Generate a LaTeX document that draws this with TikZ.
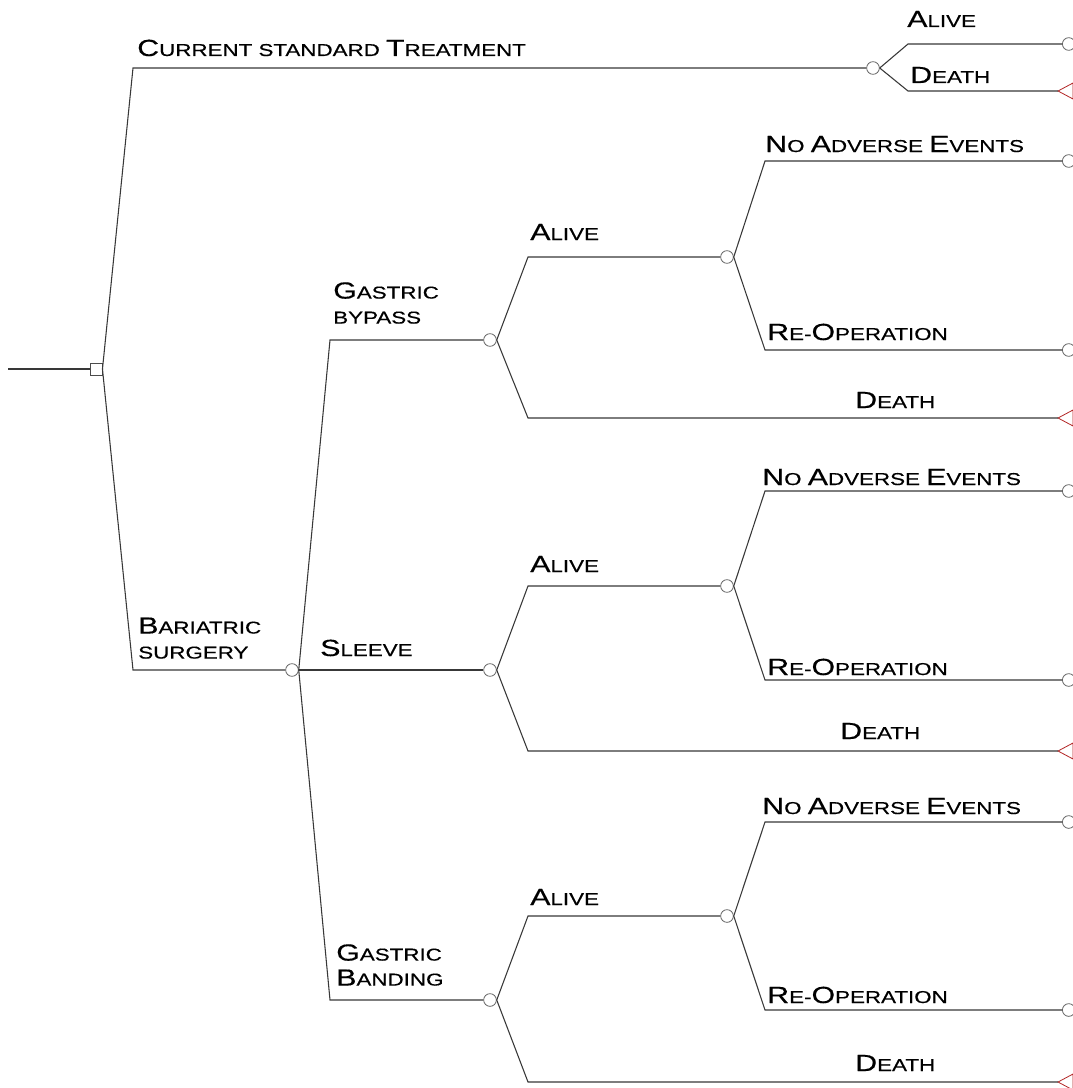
\documentclass[tikz,border=0pt]{standalone}
\usepackage{fontspec}
\newfontfamily\cpfont[FakeStretch=1.3,FakeBold=0.4]{Liberation Sans}
\newcommand{\Cp}[1]{{\fontsize{17.5}{20}\selectfont #1}}
\begin{document}
\begin{tikzpicture}[x=0.75pt,y=-0.75pt,
  ln/.style={draw=black!78, line width=0.8pt},
  chance/.style={circle, draw=black!60, line width=0.6pt, minimum size=9.5pt, inner sep=0pt},
  decision/.style={rectangle, draw=black!70, line width=0.7pt, minimum size=9pt, inner sep=0pt},
  tri/.style={draw=red!65!black!85, line width=0.6pt},
  endc/.style={chance, anchor=west},
  lbl/.style={font=\cpfont\fontsize{12.9}{18.75}\selectfont, text=black, inner sep=0pt, anchor=base west},
  lbl2/.style={font=\cpfont\fontsize{12.9}{18.75}\selectfont, text=black, inner sep=0pt, anchor=south west, align=left}]
\useasboundingbox[fill=white] (0,0) rectangle (1073,1088);

% root decision
\coordinate (start) at (8,369);
\node[decision] (root) at (96,369) {};
\draw[ln] (start) -- (root);

% current standard treatment
\coordinate (kcst) at (133,68);
\node[chance] (c0) at (873,68) {};
\draw[ln] (root.east) -- (kcst) -- (c0);
\node[lbl] (lcst) at (137,56) {\Cp{C}URRENT STANDARD \Cp{T}REATMENT};
\coordinate (k0a) at (908,44);
\coordinate (k0d) at (908,91);
\node[endc] (t0a) at (1062,44) {};
\coordinate (t0d) at (1058,91);
\draw[tri] (t0d) -- ++(15,-8) -- ++(0,16) -- cycle;
\draw[ln] (c0.east) -- (k0a) -- (t0a);
\draw[ln] (c0.east) -- (k0d) -- (t0d);
\node[lbl] (l0a) at (907,27) {\Cp{A}LIVE};
\node[lbl] (l0d) at (910,83) {\Cp{D}EATH};

% bariatric surgery
\coordinate (kbar) at (133,670);
\node[chance] (c1) at (292,670) {};
\draw[ln] (root.east) -- (kbar) -- (c1);
\node[lbl2] (lbar) at (138,659) {\Cp{B}ARIATRIC\\SURGERY};

% three procedures
\coordinate (kb) at (330,340);
\coordinate (kg) at (330,1000);
\node[chance] (cb) at (490,340) {};
\node[chance] (cs) at (490,670) {};
\node[chance] (cg) at (490,1000) {};
\draw[ln] (c1.east) -- (kb) -- (cb);
\draw[ln] (c1.east) -- (cs);
\draw[ln] (c1.east) -- (kg) -- (cg);
\node[lbl2] (lb) at (333,324) {\Cp{G}ASTRIC\\BYPASS};
\node[lbl] (ls) at (320,656) {\Cp{S}LEEVE};
\node[lbl2] (lg) at (336,986) {\Cp{G}ASTRIC\\\Cp{B}ANDING};

% sub-trees
\foreach \n/\Ya/\Yd/\Yn/\Yr/\xn/\xd/\Yla/\Yln/\Ylr/\Yld in
  {b/257/418/161/350/765/855/240/152/340/408,
   s/586/751/491/680/762/840/572/485/675/739,
   g/916/1082/822/1010/762/855/905/814/1003/1071}{
  \coordinate (ka\n) at (528,\Ya);
  \coordinate (kd\n) at (528,\Yd);
  \node[chance] (a\n) at (727,\Ya) {};
  \coordinate (td\n) at (1058,\Yd);
  \draw[tri] (td\n) -- ++(15,-8) -- ++(0,16) -- cycle;
  \draw[ln] (c\n.east) -- (ka\n) -- (a\n);
  \draw[ln] (c\n.east) -- (kd\n) -- (td\n);
  \coordinate (kn\n) at (765,\Yn);
  \coordinate (kr\n) at (765,\Yr);
  \node[endc] (tn\n) at (1062,\Yn) {};
  \node[endc] (tr\n) at (1062,\Yr) {};
  \draw[ln] (a\n.east) -- (kn\n) -- (tn\n);
  \draw[ln] (a\n.east) -- (kr\n) -- (tr\n);
  \node[lbl] (la\n) at (530,\Yla) {\Cp{A}LIVE};
  \node[lbl] (ln\n) at (\xn,\Yln) {\Cp{N}O \Cp{A}DVERSE \Cp{E}VENTS};
  \node[lbl] (lr\n) at (767,\Ylr) {\Cp{R}E-\Cp{O}PERATION};
  \node[lbl] (ld\n) at (\xd,\Yld) {\Cp{D}EATH};
}
\end{tikzpicture}
\end{document}
